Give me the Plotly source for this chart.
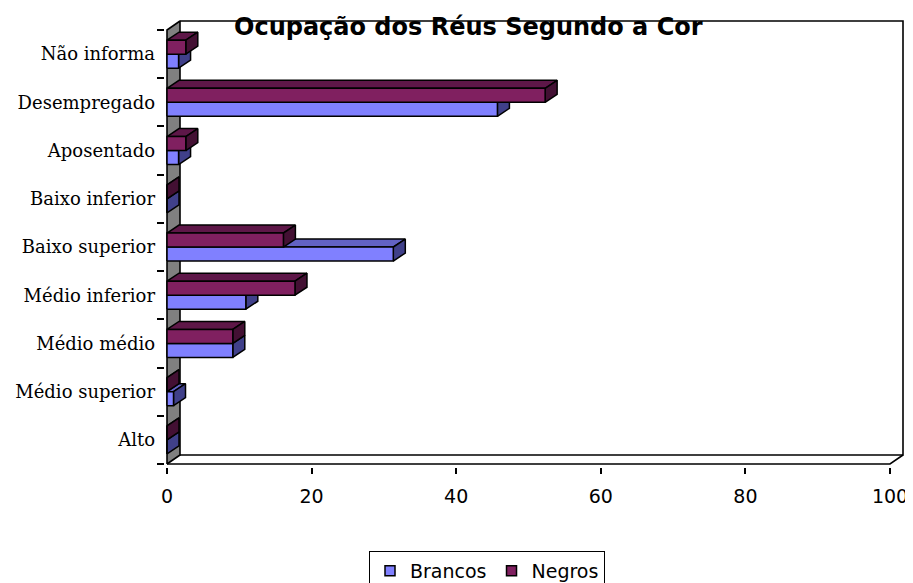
import plotly.graph_objects as go

# ---------------- data ----------------
categories = ["Alto", "Médio superior", "Médio médio", "Médio inferior",
              "Baixo superior", "Baixo inferior", "Aposentado",
              "Desempregado", "Não informa"]
brancos = [0.0, 0.9, 9.1, 10.9, 31.3, 0.0, 1.6, 45.7, 1.6]
negros = [0.0, 0.0, 9.1, 17.7, 16.1, 0.0, 2.6, 52.3, 2.6]
x_ticks = [0, 20, 40, 60, 80, 100]
series_names = ["Brancos", "Negros"]
title_text = "Ocupação dos Réus Segundo a Cor"

# ---------------- geometry / style ----------------
PAGE_OFF = 8                      # default body margin of the html page
W, H = 913 - PAGE_OFF, 583 - PAGE_OFF
PX_X = 7.23          # pixels per x unit
PX_C = 48.22         # pixels per category
L, R, T, B = 165 - PAGE_OFF, 6, 18 - PAGE_OFF, 116
PLOT_W, PLOT_H = W - L - R, H - T - B
X_MAX = 100
n = len(categories)
x_range = [-(2 / PX_X), -(2 / PX_X) + PLOT_W / PX_X]
y_lo = -0.5 - 3 / PX_C
y_range = [y_lo, y_lo + PLOT_H / PX_C]


def px_to_paper_x(px):
    return (px - PAGE_OFF - L) / PLOT_W


def px_to_paper_y(py):
    return (H - B - (py - PAGE_OFF)) / PLOT_H


BAR_H = 14 / PX_C
BAR_DX = 12 / PX_X
BAR_DY = 8 / PX_C
WALL_DX = 13 / PX_X
WALL_DY = 9 / PX_C

colors = {
    "Brancos": ("#8080FF", "#6262C4", "#40408A"),
    "Negros": ("#802060", "#5E1748", "#431033"),
}
EDGE = dict(color="black", width=1.6)

fig = go.Figure()

# side wall (gray) and frame
y_bot, y_top = -0.5, n - 0.5
fig.add_trace(go.Scatter(
    x=[0, 0, WALL_DX, WALL_DX, 0],
    y=[y_bot, y_top, y_top + WALL_DY, y_bot + WALL_DY, y_bot],
    fill="toself", fillcolor="#808080", mode="lines", line=EDGE,
    hoverinfo="skip", showlegend=False))
fig.add_trace(go.Scatter(
    x=[WALL_DX, X_MAX + WALL_DX, X_MAX + WALL_DX, WALL_DX, None,
       0, X_MAX, X_MAX + WALL_DX],
    y=[y_top + WALL_DY, y_top + WALL_DY, y_bot + WALL_DY, y_bot + WALL_DY, None,
       y_bot, y_bot, y_bot + WALL_DY],
    mode="lines", line=EDGE, hoverinfo="skip", showlegend=False))


def faces(values, offset):
    fx, fy, tx, ty, sx, sy = [], [], [], [], [], []
    for i, v in enumerate(values):
        y0 = i + offset
        y1 = y0 + BAR_H
        fx += [0, v, v, 0, 0, None]
        fy += [y0, y0, y1, y1, y0, None]
        tx += [0, v, v + BAR_DX, BAR_DX, 0, None]
        ty += [y1, y1, y1 + BAR_DY, y1 + BAR_DY, y1, None]
        sx += [v, v + BAR_DX, v + BAR_DX, v, v, None]
        sy += [y0, y0 + BAR_DY, y1 + BAR_DY, y1, y0, None]
    return (fx, fy), (tx, ty), (sx, sy)


for name, vals, off in [("Brancos", brancos, -BAR_H), ("Negros", negros, 0.0)]:
    front, top, side = faces(vals, off)
    cf, ct, cs = colors[name]
    for (xx, yy), c in [(top, ct), (side, cs), (front, cf)]:
        fig.add_trace(go.Scatter(
            x=xx, y=yy, fill="toself", fillcolor=c, mode="lines",
            line=dict(color="black", width=1.5), hoverinfo="skip",
            showlegend=False))

# legend entries
for name in series_names:
    fig.add_trace(go.Scatter(
        x=[None], y=[None], mode="markers", name=name,
        marker=dict(symbol="square", size=10, color=colors[name][0],
                    line=dict(color="black", width=1.5))))

# dummy trace for label axis
fig.add_trace(go.Scatter(x=[None], y=[None], yaxis="y2", showlegend=False,
                         hoverinfo="skip"))

fig.add_annotation(
    text=title_text, xref="paper", yref="paper",
    x=px_to_paper_x(468.5), y=px_to_paper_y(27),
    xanchor="center", yanchor="middle", showarrow=False,
    font=dict(family="DejaVu Sans", size=24, color="black", weight="bold"))

fig.update_layout(
    width=W, height=H,
    margin=dict(l=L, r=R, t=T, b=B, pad=0, autoexpand=False),
    paper_bgcolor="white", plot_bgcolor="white",
    showlegend=True,
    legend=dict(orientation="h", x=px_to_paper_x(487), xanchor="center",
                y=px_to_paper_y(551), yanchor="top",
                bordercolor="black", borderwidth=1, bgcolor="white",
                font=dict(family="DejaVu Sans", size=19, color="black"),
                itemwidth=30),
    xaxis=dict(range=x_range, tickvals=x_ticks, ticktext=[str(t) for t in x_ticks],
               ticks="outside", ticklen=6, tickwidth=1.5, tickcolor="black",
               showline=False, showgrid=False, zeroline=False,
               ticklabelstandoff=6,
               tickfont=dict(family="DejaVu Sans", size=19, color="black")),
    yaxis=dict(range=y_range, tickvals=[i - 0.5 for i in range(n + 1)],
               showticklabels=False, ticks="outside", ticklen=7,
               tickwidth=1.5, tickcolor="black",
               showline=False, showgrid=False, zeroline=False),
    yaxis2=dict(range=y_range, overlaying="y", side="left", anchor="x",
                tickvals=list(range(n)), ticktext=categories, ticks="",
                showline=False, showgrid=False, zeroline=False,
                ticklabelstandoff=9,
                tickfont=dict(family="DejaVu Serif", size=18, color="black")),
)

fig.write_html("out.html")
